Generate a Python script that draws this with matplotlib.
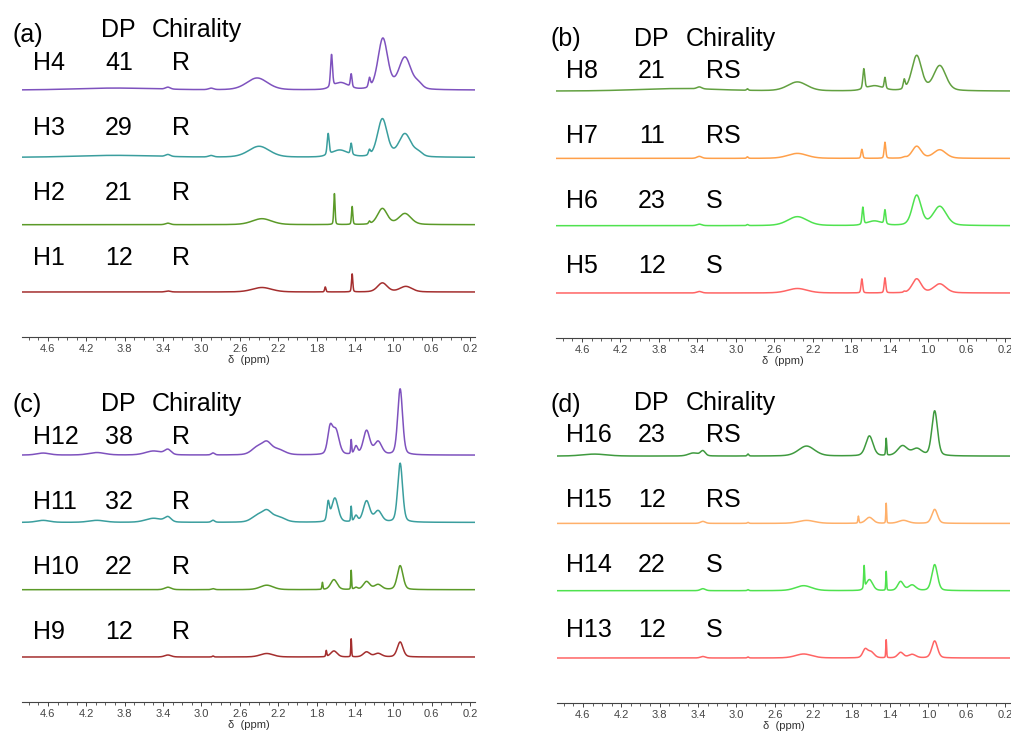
import numpy as np
import matplotlib
matplotlib.use("Agg")
import matplotlib.pyplot as plt
from matplotlib.ticker import MultipleLocator

plt.rcParams['font.family'] = ['Liberation Sans', 'DejaVu Sans']

W, H = 1011, 731

# peaks: (ppm, height in px above baseline, half width in ppm)
H1 = [(3.35, 1, 0.03), (2.37, 4.5, 0.12), (1.71, 5, 0.008), (1.43, 18, 0.008), (1.115, 9, 0.06), (0.87, 5.5, 0.075)]
H2 = [(3.35, 1.5, 0.03), (2.37, 6, 0.12), (1.615, 31, 0.008), (1.43, 18, 0.008), (1.25, 2.5, 0.01), (1.115, 16, 0.06), (0.88, 11, 0.075)]
H3 = [(3.9, 2, 0.5), (3.35, 2, 0.03), (2.9, 1.5, 0.03), (2.40, 11, 0.13), (1.68, 21, 0.012), (1.56, 7, 0.1),
      (1.44, 11, 0.01), (1.25, 5, 0.012), (1.115, 38, 0.06), (0.88, 23, 0.075), (0.74, 4, 0.05)]
H4 = [(3.9, 2, 0.5), (3.35, 2, 0.03), (2.9, 1.5, 0.03), (2.42, 12, 0.13), (1.645, 32, 0.012), (1.55, 7, 0.09),
      (1.44, 13, 0.01), (1.25, 9, 0.012), (1.11, 51, 0.06), (0.88, 32, 0.075), (0.74, 5, 0.05)]

H5 = [(3.38, 1.5, 0.03), (2.36, 4.5, 0.12), (1.69, 14, 0.01), (1.45, 15, 0.01), (1.25, 1, 0.01), (1.12, 14, 0.055), (0.88, 9, 0.075)]
H6 = [(3.38, 1.5, 0.03), (2.88, 1, 0.01), (2.36, 9, 0.12), (1.68, 17, 0.01), (1.56, 4.5, 0.09), (1.45, 14, 0.01),
      (1.12, 30, 0.055), (0.88, 19, 0.08)]
H7 = [(3.38, 2, 0.03), (2.88, 1.5, 0.01), (2.36, 5, 0.12), (1.69, 9, 0.01), (1.45, 16, 0.01), (1.25, 1, 0.02),
      (1.12, 12, 0.055), (0.88, 8.5, 0.075)]
H8 = [(3.6, 2.5, 0.5), (3.38, 2, 0.03), (2.88, 1.5, 0.01), (2.36, 9, 0.12), (1.67, 20, 0.012), (1.56, 5, 0.1),
      (1.45, 11, 0.01), (1.25, 9, 0.012), (1.12, 35, 0.06), (0.88, 25, 0.075)]

H9 = [(3.35, 2, 0.04), (2.88, 1, 0.01), (2.32, 3.5, 0.08), (1.70, 6, 0.006), (1.62, 6, 0.04), (1.44, 18, 0.005),
      (1.28, 5, 0.04), (1.16, 3.5, 0.045), (0.93, 15, 0.035)]
H10 = [(3.35, 2.5, 0.04), (2.88, 1, 0.02), (2.32, 4.5, 0.08), (1.74, 7, 0.006), (1.62, 10, 0.04), (1.44, 19, 0.005),
       (1.39, 2, 0.02), (1.28, 8, 0.04), (1.16, 5, 0.045), (0.93, 24, 0.035)]
H11 = [(4.65, 2, 0.08), (4.09, 2, 0.1), (3.5, 4, 0.1), (3.35, 5, 0.04), (2.88, 2, 0.02), (2.42, 6, 0.07), (2.32, 10, 0.06),
       (2.2, 5, 0.08), (1.68, 18, 0.015), (1.61, 24, 0.04), (1.44, 15, 0.006), (1.39, 6, 0.02), (1.28, 21, 0.04),
       (1.16, 11, 0.045), (0.93, 59, 0.03)]
H12 = [(4.65, 2, 0.08), (4.09, 2.5, 0.1), (3.5, 4, 0.1), (3.35, 5, 0.04), (2.88, 2, 0.02), (2.42, 7, 0.07), (2.32, 11, 0.06),
       (2.2, 5, 0.08), (1.66, 25, 0.03), (1.6, 24, 0.04), (1.44, 14, 0.006), (1.39, 8, 0.02), (1.28, 24, 0.04),
       (1.16, 13, 0.045), (0.93, 66, 0.03)]

H13 = [(3.35, 1.5, 0.03), (2.88, 1, 0.01), (2.3, 4, 0.1), (1.66, 8, 0.03), (1.6, 6, 0.04), (1.44, 18, 0.005),
       (1.29, 5.5, 0.035), (1.17, 3.5, 0.045), (0.935, 17, 0.035)]
H14 = [(3.35, 2, 0.03), (2.88, 1, 0.01), (2.3, 5, 0.1), (1.67, 22, 0.006), (1.615, 11, 0.04), (1.44, 19, 0.005),
       (1.29, 9, 0.035), (1.17, 5.5, 0.045), (0.935, 26, 0.035)]
H15 = [(3.35, 2, 0.03), (2.88, 1, 0.01), (2.27, 3, 0.1), (1.73, 7, 0.006), (1.615, 6, 0.045), (1.44, 20, 0.005),
       (1.26, 3, 0.06), (0.935, 14, 0.035)]
H16 = [(4.48, 2, 0.15), (3.45, 3, 0.06), (3.35, 5, 0.03), (2.88, 2, 0.01), (2.27, 10, 0.1), (1.615, 20, 0.045),
       (1.44, 17, 0.006), (1.27, 10, 0.06), (1.12, 7, 0.06), (0.935, 45, 0.035)]

# sample tables, top row first
names_a = ["H4", "H3", "H2", "H1"]
dp_a = ["41", "29", "21", "12"]
chir_a = ["R", "R", "R", "R"]
names_b = ["H8", "H7", "H6", "H5"]
dp_b = ["21", "11", "23", "12"]
chir_b = ["RS", "RS", "S", "S"]
names_c = ["H12", "H11", "H10", "H9"]
dp_c = ["38", "32", "22", "12"]
chir_c = ["R", "R", "R", "R"]
names_d = ["H16", "H15", "H14", "H13"]
dp_d = ["23", "12", "22", "12"]
chir_d = ["RS", "RS", "S", "S"]

spectra = {"H1": H1, "H2": H2, "H3": H3, "H4": H4, "H5": H5, "H6": H6, "H7": H7, "H8": H8,
           "H9": H9, "H10": H10, "H11": H11, "H12": H12, "H13": H13, "H14": H14, "H15": H15, "H16": H16}

colors_ac = ["#7e52be", "#3a9e9e", "#5b9a28", "#a42e2e"]
colors_b = ["#62a040", "#ffa04a", "#4fe24f", "#ff6464"]
colors_d = ["#3f9a3f", "#ffb06a", "#4fe24f", "#ff6464"]


def spectrum(x, peaks):
    y = np.zeros_like(x)
    for c, h, w in peaks:
        r = (x - c) / w
        y += h * (0.7 * np.exp(-np.log(2) * r ** 2) + 0.3 / (1 + r ** 2))
    return y


def figtext(fig, x, y, s, **kw):
    fig.text(x / W, 1 - y / H, s, fontsize=18, va="baseline", **kw)


def panel(fig, x0, x1, yaxis, names, colors, tag, dp, chir, tx, ty):
    ax = fig.add_axes([x0 / W, 1 - yaxis / H, (x1 - x0) / W, 322 / H])
    x = np.linspace(4.87, 0.15, 5000)
    for i, name in enumerate(names):
        off = 45 + 67.3 * (3 - i)
        ax.plot(x, spectrum(x, spectra[name]) + off, color=colors[i], lw=1.1)
    ax.set_xlim(4.87, 0.15)
    ax.set_ylim(0, 322)
    ax.xaxis.set_minor_locator(MultipleLocator(0.1))
    ax.set_xticks(np.arange(0.2, 4.7, 0.4))
    ax.set_xticklabels(["%.1f" % v for v in np.arange(0.2, 4.7, 0.4)])
    for s in ["top", "left", "right"]:
        ax.spines[s].set_visible(False)
    ax.spines["bottom"].set_color("#444444")
    ax.spines["bottom"].set_linewidth(0.8)
    ax.set_yticks([])
    ax.tick_params(axis="x", which="major", length=3, width=0.7, colors="#444444", labelsize=8, pad=2)
    ax.tick_params(axis="x", which="minor", length=2, width=0.6, colors="#444444")
    ax.set_xlabel("δ  (ppm)", fontsize=8, color="#333333", labelpad=1)
    ax.patch.set_alpha(0)

    # header and rows of labels
    figtext(fig, tx[0], ty[0], tag)
    figtext(fig, tx[1], ty[1], "DP")
    figtext(fig, tx[2], ty[1], "Chirality")
    for i in range(4):
        yy = ty[2] + 65 * i
        figtext(fig, tx[3], yy, names[i])
        figtext(fig, tx[4], yy, dp[i], ha="center")
        figtext(fig, tx[5], yy, chir[i])


def main():
    fig = plt.figure(figsize=(W / 100, H / 100), dpi=100)
    panel(fig, 22, 475, 337, names_a, colors_ac, "(a)", dp_a, chir_a, [12, 101, 152, 33, 119, 172], [42, 37, 70])
    panel(fig, 556, 1010, 338, names_b, colors_b, "(b)", dp_b, chir_b, [551, 634, 686, 566, 652, 706], [46, 46, 78])
    panel(fig, 22, 475, 702, names_c, colors_ac, "(c)", dp_c, chir_c, [12, 101, 152, 33, 119, 172], [412, 411, 444])
    panel(fig, 557, 1010, 703, names_d, colors_d, "(d)", dp_d, chir_d, [551, 634, 686, 566, 652, 706], [412, 410, 442])
    fig.savefig("out.png", dpi=100)


if __name__ == "__main__":
    main()
